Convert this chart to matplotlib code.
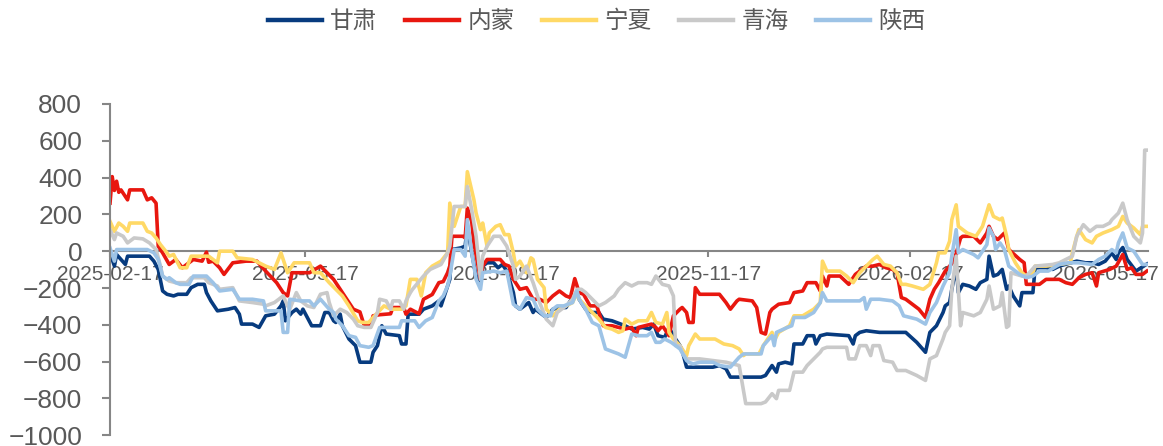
import matplotlib
matplotlib.use("Agg")
import matplotlib.pyplot as plt
import pandas as pd

start = pd.Timestamp("2025-02-17")

series_names = ["甘肃", "内蒙", "宁夏", "青海", "陕西"]
series_colors = ["#073B7F", "#E8170F", "#FFD966", "#C9C9C9", "#9DC3E6"]

gansu_day = [0, 2, 3, 5, 7, 8, 15, 18, 20, 22, 24, 26, 29, 31, 35, 37, 40, 43, 44, 46, 49, 54, 57, 59, 60, 65, 68, 71, 75, 78, 79, 80, 83, 85, 87, 88, 92, 96, 98, 100, 102, 103, 105, 106, 109, 112, 114, 119, 120, 122, 124, 126,
             132, 133, 135, 136, 141, 143, 147, 150, 151, 153, 155, 156, 160, 162, 163, 165, 167, 169, 170, 172, 175, 177, 179, 181, 184, 185, 187, 189, 191, 193, 194, 198, 199, 202, 206, 208, 210, 213, 214, 217, 220, 223, 225, 229, 235, 238, 243, 246, 248, 250, 253, 255, 257, 260, 261, 263, 275, 278, 281, 283, 297,
             299, 302, 304, 305, 308, 311, 312, 316, 318, 321, 322, 324, 327, 337, 339, 340, 342, 345, 351, 363, 368, 372, 374, 377, 380, 381, 383, 384, 386, 387, 389, 392, 395, 397, 400, 401, 403, 405, 407, 409, 410, 412, 415, 416, 421, 422, 427, 430, 433, 441, 445, 448, 451, 454, 457, 459, 460, 462, 464, 468, 473]
gansu_val = [-9, -81, -18, -45, -72, -27, -27, -27, -54, -99, -216, -234, -243, -234, -234, -198, -180, -180, -225, -270, -324, -315, -306, -342, -396, -396, -414, -351, -342, -297, -270, -378, -333, -315, -342, -315, -405, -405, -333, -333, -378, -387, -342, -405, -477, -513, -603, -603, -549, -513, -405, -450,
             -459, -504, -504, -342, -342, -315, -297, -270, -297, -225, -153, 9, 18, 27, 135, -9, -135, -162, -81, -63, -63, -90, -72, -108, -225, -297, -315, -297, -279, -333, -315, -351, -360, -315, -306, -306, -270, -234, -261, -315, -333, -333, -369, -378, -405, -423, -414, -423, -396, -459, -468, -414, -459, -513, -540, -630, -630, -621, -639, -684, -684,
             -675, -621, -657, -612, -603, -612, -504, -504, -459, -459, -504, -459, -450, -459, -504, -459, -441, -432, -441, -441, -495, -549, -441, -405, -333, -297, -279, -207, -81, -225, -180, -189, -207, -171, -153, -27, -135, -126, -99, -207, -189, -243, -297, -225, -225, -90, -90, -99, -81, -54, -63, -63, -72, -54, -9, -45, -9, 20, -45, -108, -70]

neimeng_day = [0, 1, 2, 3, 4, 5, 8, 9, 15, 17, 19, 21, 22, 24, 27, 30, 33, 38, 42, 44, 45, 47, 50, 52, 56, 62, 67, 71, 76, 79, 81, 83, 91, 96, 102, 106, 111, 114, 116, 119, 120,
               123, 128, 129, 134, 135, 137, 141, 143, 147, 150, 152, 154, 155, 156, 161, 162, 163, 165, 166, 169, 170, 172, 178, 180, 182, 184, 187, 190, 193, 196, 199, 202, 205, 208, 210, 212, 214, 216, 219, 222, 223, 225, 229, 235, 238, 240, 241, 244, 247, 249, 250, 252, 255, 257, 260, 261, 263, 264, 266, 267, 269, 278, 281, 283, 286, 287, 293, 295, 297,
               299, 301, 302, 304, 305, 310, 312, 316, 318, 322, 324, 325, 327, 328, 333, 337, 340, 345, 348, 351, 354, 357, 359, 361, 363, 369, 372, 374, 376, 378, 381, 385, 388, 389, 394, 397, 400, 401, 403, 405, 408, 410, 415, 417, 418, 424, 427, 433, 436, 439, 442, 445, 448, 450, 451, 456, 459, 462, 464, 466, 468, 471, 473]
neimeng_val = [261, 405, 330, 380, 320, 333, 279, 333, 333, 279, 290, 261, 27, -9, -72, -45, -90, -45, -54, -5, -60, -54, -90, -126, -63, -54, -54, -108, -171, -225, -243, -117, -117, -81, -153, -225, -315, -330, -405, -405, -351,
               -345, -340, -306, -306, -342, -315, -340, -261, -235, -171, -165, -117, -80, 81, 81, 72, 234, 160, 45, -153, -81, -45, -45, -72, -81, -153, -207, -198, -261, -261, -279, -243, -216, -243, -252, -149, -225, -234, -297, -297, -333, -405, -405, -423, -414, -459, -414, -405, -396, -414, -432, -405, -459, -351, -315, -306, -333, -387, -387, -198, -234, -234, -279, -315, -270, -261, -270, -306, -441,
               -450, -333, -315, -297, -288, -279, -225, -216, -171, -171, -216, -135, -189, -135, -135, -180, -126, -81, -81, -72, -90, -99, -117, -252, -261, -315, -360, -261, -207, -171, -108, -54, 72, 81, 81, 45, 99, 135, 81, 63, 99, 9, -45, -63, -180, -180, -153, -153, -171, -180, -144, -126, -117, -189, -117, -99, -81, -18, -99, -90, -126, -126, -108]

ningxia_day = [0, 2, 4, 6, 8, 9, 15, 17, 19, 21, 23, 26, 27, 29, 32, 35, 37, 45, 49, 50, 56, 58, 65, 71, 75, 78, 81, 84, 91, 93, 96, 100, 106, 109, 113, 115, 118, 120, 125, 128, 132,
               133, 135, 137, 140, 142, 144, 147, 151, 154, 155, 157, 160, 162, 163, 166, 167, 169, 170, 172, 173, 176, 178, 180, 182, 184, 185, 187, 190, 192, 193, 195, 198, 199, 202, 205, 208, 211, 213, 214, 217, 220, 223, 226, 229, 232, 234, 235, 238, 241, 245, 247, 249, 252, 254, 255, 257, 260, 263, 264, 267, 269, 276, 280, 284, 287, 289, 290, 296,
               298, 302, 303, 305, 310, 312, 316, 321, 324, 325, 327, 333, 336, 339, 342, 345, 348, 350, 353, 356, 359, 361, 363, 366, 371, 374, 377, 378, 381, 383, 384, 386, 387, 391, 395, 398, 401, 403, 406, 407, 409, 410, 413, 416, 418, 421, 422, 427, 433, 438, 439, 441, 442, 445, 448, 450, 453, 457, 460, 462, 464, 467, 470, 471, 473]
ningxia_val = [162, 108, 153, 135, 108, 153, 153, 108, 99, 72, 36, -9, -27, -18, -90, -90, -27, -27, -63, 0, 0, -36, -45, -81, -99, -9, -117, -63, -63, -117, -117, -171, -243, -297, -378, -387, -387, -360, -297, -315, -315,
               -315, -297, -153, -153, -243, -117, -81, -54, -9, 261, 135, 243, 243, 432, 279, 207, 117, 153, 27, 99, 135, 144, 90, 90, -9, -81, -54, -117, -36, -45, -153, -198, -315, -351, -315, -297, -279, -225, -261, -297, -333, -369, -414, -423, -441, -432, -369, -396, -378, -378, -333, -387, -396, -333, -441, -477, -513, -567, -513, -450, -477, -477, -504, -513, -531, -567, -558, -558,
               -513, -441, -486, -441, -405, -351, -351, -315, -279, -54, -108, -108, -135, -171, -117, -81, -45, -27, -72, -81, -117, -180, -180, -189, -207, -180, -63, -9, -9, 54, 171, 252, 135, 99, 81, 135, 252, 189, 171, 180, 81, 9, -63, -117, -135, -117, -81, -81, -72, -63, -9, 81, 117, 63, 45, 81, 99, 117, 135, 189, 153, 126, 90, 135, 135]

qinghai_day = [0, 2, 3, 6, 8, 11, 15, 18, 21, 23, 24, 27, 30, 35, 37, 43, 45, 49, 50, 56, 59, 65, 70, 71, 75, 78, 79, 81, 82, 85, 87, 90, 93, 96, 99, 100, 102, 105, 108, 111, 113, 116, 119, 122, 123, 126, 128, 129, 132,
               134, 135, 137, 138, 143, 146, 151, 154, 155, 157, 162, 163, 165, 167, 169, 170, 172, 175, 178, 181, 182, 184, 185, 187, 190, 193, 196, 199, 202, 204, 206, 208, 211, 213, 215, 217, 220, 223, 226, 230, 232, 235, 238, 241, 245, 247, 249, 252, 255, 257, 258, 260, 261, 263, 269, 275, 281, 284, 287, 290, 297,
               299, 302, 304, 305, 310, 312, 316, 318, 321, 324, 325, 327, 336, 337, 340, 342, 345, 347, 348, 351, 353, 357, 359, 363, 368, 372, 374, 377, 380, 381, 383, 384, 386, 388, 389, 394, 397, 400, 401, 403, 406, 407, 409, 410, 411, 416, 418, 422, 430, 433, 439, 441, 444, 447, 450, 453, 456, 457, 460, 462, 464, 467, 470, 471, 472, 473]
qinghai_val = [117, 63, 99, 81, 45, 72, 67, 45, 9, -81, -135, -162, -171, -171, -144, -144, -171, -189, -207, -198, -270, -279, -288, -297, -279, -252, -243, -297, -315, -225, -270, -297, -306, -234, -225, -279, -351, -315, -333, -369, -405, -414, -414, -333, -261, -270, -315, -270, -270,
               -315, -270, -225, -207, -135, -99, -72, -9, 27, 243, 243, 351, 225, 81, -153, -27, 27, 81, 81, 27, -9, -81, -153, -135, -81, -171, -279, -369, -405, -333, -315, -297, -261, -207, -207, -225, -261, -297, -279, -243, -207, -171, -189, -171, -171, -180, -135, -180, -189, -243, -513, -513, -549, -585, -585, -594, -603, -612, -621, -828, -828,
               -819, -774, -801, -756, -756, -657, -657, -621, -585, -549, -531, -522, -522, -585, -585, -513, -513, -567, -513, -513, -594, -603, -648, -648, -675, -702, -585, -567, -477, -441, -405, -207, -27, -405, -333, -351, -333, -261, -189, -315, -297, -225, -414, -405, -117, -135, -135, -81, -72, -63, -27, 81, 144, 108, 135, 135, 153, 171, 207, 261, 171, 81, 45, 99, 549, 549]

shaanxi_day = [0, 2, 3, 17, 20, 22, 24, 26, 27, 30, 32, 36, 38, 44, 47, 50, 56, 59, 65, 70, 71, 78, 79, 81, 82, 87, 91, 93, 96, 100, 102, 103, 106, 109, 112, 114, 118, 120, 123, 132,
               133, 139, 141, 144, 147, 150, 152, 154, 155, 157, 160, 162, 163, 165, 167, 169, 170, 175, 178, 181, 184, 187, 190, 193, 195, 198, 201, 202, 204, 207, 211, 213, 214, 217, 220, 223, 226, 232, 235, 238, 241, 245, 247, 249, 251, 253, 256, 260, 263, 264, 266, 269, 275, 278, 283, 287, 289, 297,
               298, 302, 303, 304, 309, 311, 312, 317, 321, 324, 325, 327, 336, 342, 344, 345, 347, 351, 357, 360, 362, 368, 372, 374, 377, 380, 383, 384, 386, 387, 389, 394, 396, 400, 401, 403, 404, 406, 408, 410, 412, 415, 418, 421, 424, 428, 433, 437, 442, 448, 451, 454, 457, 459, 460, 462, 464, 467, 470, 471, 473]
shaanxi_val = [18, -54, 9, 9, -9, -45, -135, -153, -144, -171, -180, -180, -135, -135, -171, -216, -207, -261, -261, -270, -324, -324, -441, -441, -261, -270, -270, -297, -261, -315, -333, -369, -405, -459, -468, -513, -522, -513, -414, -414,
               -378, -378, -414, -378, -360, -270, -243, -189, -135, 9, 9, -27, 171, -9, -153, -207, -117, -108, -117, -108, -288, -315, -252, -261, -315, -351, -351, -315, -297, -297, -279, -216, -261, -315, -387, -405, -531, -558, -576, -450, -459, -459, -441, -495, -495, -477, -495, -531, -594, -603, -612, -603, -603, -621, -630, -576, -558, -558,
               -513, -459, -513, -441, -414, -405, -360, -360, -333, -279, -225, -270, -270, -270, -252, -315, -261, -261, -270, -297, -351, -369, -396, -333, -279, -189, -117, -27, 117, -9, 9, -18, -36, 36, 126, 81, 9, 45, 9, -81, -99, -126, -144, -135, -108, -108, -72, -63, -63, -72, -45, -27, 9, -9, 45, 99, 18, 0, -54, -72, -72]

series_days = [gansu_day, neimeng_day, ningxia_day, qinghai_day, shaanxi_day]
series_vals = [gansu_val, neimeng_val, ningxia_val, qinghai_val, shaanxi_val]

x_tick_labels = ["2025-02-17", "2025-05-17", "2025-08-17", "2025-11-17", "2026-02-17", "2026-05-17"]
y_ticks = [800, 600, 400, 200, 0, -200, -400, -600, -800, -1000]

text_color = "#595959"
axis_color = "#868686"

fig = plt.figure(figsize=(11.63, 4.46), dpi=100)
ax = fig.add_axes([0.0946, 0.024, 0.8925, 0.743])

for name, color, days, vals in zip(series_names, series_colors, series_days, series_vals):
    dates = start + pd.to_timedelta(days, unit="D")
    ax.plot(dates, vals, color=color, lw=2.6, label=name)

ax.set_ylim(-1000, 800)
ax.set_yticks(y_ticks)
ax.set_xlim(start, start + pd.Timedelta(days=473.5))
ax.set_xticks([pd.Timestamp(s) for s in x_tick_labels])
ax.set_xticklabels(x_tick_labels)

for s in ["top", "right"]:
    ax.spines[s].set_visible(False)
ax.spines["bottom"].set_position(("data", 0))
ax.spines["bottom"].set_color(axis_color)
ax.spines["left"].set_color(axis_color)
ax.spines["bottom"].set_linewidth(1.5)
ax.spines["left"].set_linewidth(1.5)
ax.spines["bottom"].set_zorder(1)

ax.tick_params(axis="y", direction="out", length=6, width=1.5, color=axis_color,
               labelsize=19, labelcolor=text_color, pad=14)
ax.tick_params(axis="x", direction="out", length=4, width=1.5, color=axis_color,
               labelsize=15, labelcolor=text_color, pad=6)
for lab in ax.get_xticklabels() + ax.get_yticklabels():
    lab.set_family(["Liberation Sans", "DejaVu Sans"])

leg = fig.legend(loc="center", bbox_to_anchor=(0.513, 0.951), ncol=5, frameon=False,
                 prop={"family": ["Noto Sans CJK SC", "DejaVu Sans"], "size": 17},
                 handlelength=2.3, handletextpad=0.35, columnspacing=1.15)
for h in leg.get_lines():
    h.set_linewidth(3.2)
for t in leg.get_texts():
    t.set_color(text_color)

fig.savefig("out.png", dpi=100)
